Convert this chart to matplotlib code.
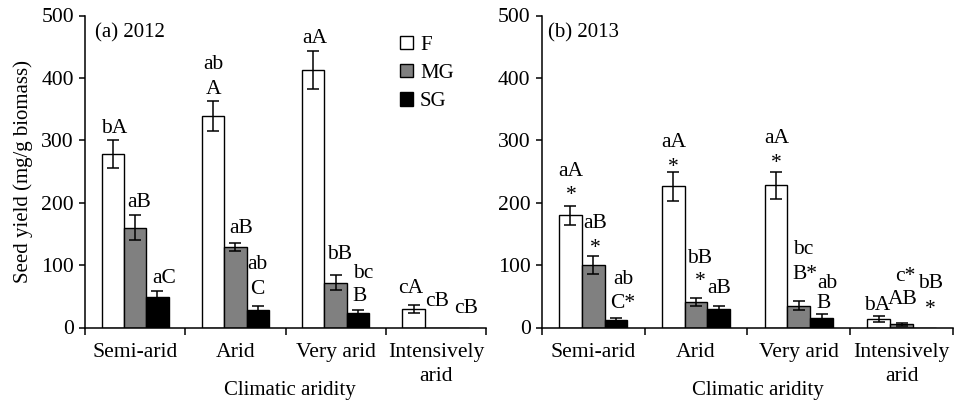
import matplotlib
matplotlib.use("Agg")
import matplotlib.pyplot as plt
from matplotlib.patches import Patch
import numpy as np

categories = ["Semi-arid", "Arid", "Very arid", "Intensively\narid"]
series = ["F", "MG", "SG"]

# 2012
f_2012 = [278, 339, 413, 30]
mg_2012 = [160, 129, 72, 0]
sg_2012 = [49, 28, 23, 0]
f_2012_err = [22, 24, 30, 6]
mg_2012_err = [20, 6, 12, 0]
sg_2012_err = [10, 6, 5, 0]

# 2013
f_2013 = [180, 226, 228, 14]
mg_2013 = [100, 41, 35, 5]
sg_2013 = [12, 29, 15, 0]
f_2013_err = [15, 24, 22, 5]
mg_2013_err = [15, 7, 7, 2.5]
sg_2013_err = [4, 6, 6, 0]

# significance letters: (x, baseline y, text)
labels_2012 = [
    (0.292, 312, "bA"), (0.541, 193, "aB"), (0.791, 71, "aC"),
    (1.279, 415, "ab"), (1.279, 374, "A"), (1.555, 151, "aB"),
    (1.718, 93, "ab"), (1.718, 53, "C"),
    (2.293, 456, "aA"), (2.536, 110, "bB"), (2.775, 80, "bc"), (2.742, 43, "B"),
    (3.247, 55, "cA"), (3.516, 34, "cB"), (3.806, 23, "cB"),
]
labels_2013 = [
    (0.285, 243, "aA"), (0.285, 204, "*"), (0.518, 159, "aB"), (0.518, 120, "*"),
    (0.794, 69, "ab"), (0.788, 31.6, "C*"),
    (1.280, 289, "aA"), (1.280, 249, "*"), (1.540, 103.5, "bB"), (1.540, 66, "*"),
    (1.728, 54.5, "aB"),
    (2.286, 295, "aA"), (2.286, 256, "*"), (2.539, 118, "bc"), (2.561, 78, "B*"),
    (2.782, 63.5, "ab"), (2.740, 31.6, "B"),
    (3.265, 28, "bA"), (3.512, 37, "AB"), (3.535, 74, "c*"), (3.777, 63.5, "bB"),
    (3.784, 22, "*"),
]

plt.rcParams["font.family"] = ["Liberation Serif", "DejaVu Serif"]
FS = 15
FS_TICK = 15.6
FS_ANN = 15.5
colors = ["white", "#808080", "black"]

fig = plt.figure(figsize=(9.55, 4.04), dpi=100)
ax1 = fig.add_axes([85/955, 1-327.5/404, (486-85)/955, 312/404])
ax2 = fig.add_axes([541.7/955, 1-327.5/404, (953-541.7)/955, 312/404])

bw = 0.222
offs = [-bw, 0, bw]
x = np.arange(len(categories)) + 0.5


def draw(ax, vals, errs, labels, title, xlab_x):
    for i, (v, e) in enumerate(zip(vals, errs)):
        ax.bar(x + offs[i], v, width=bw, color=colors[i], edgecolor="black",
               linewidth=1.0, label=series[i], zorder=2)
        ev = np.array(v, dtype=float)
        ee = np.array(e, dtype=float)
        m = ee > 0
        ax.errorbar((x + offs[i])[m], ev[m], yerr=ee[m], fmt="none",
                    ecolor="black", elinewidth=1.1, capsize=4.3, capthick=1.1, zorder=3)
    for lx, ly, t in labels:
        ax.text(lx, ly, t, ha="center", va="baseline", fontsize=FS_ANN)
    ax.set_xlim(0, 4)
    ax.set_ylim(0, 500)
    ax.set_xticks([0, 1, 2, 3, 4])
    ax.set_xticklabels([])
    ax.set_xticks(x, minor=True)
    ax.set_xticklabels(categories, minor=True, fontsize=FS_TICK, linespacing=1.35)
    ax.tick_params(axis="x", which="minor", length=0, pad=11)
    ax.tick_params(axis="x", which="major", length=5, width=1.1, direction="out")
    ax.set_yticks(np.arange(0, 501, 100))
    ax.tick_params(axis="y", length=4, width=1.1, direction="out", labelsize=FS_TICK, pad=4)
    for s in ["top", "right"]:
        ax.spines[s].set_visible(False)
    for s in ["left", "bottom"]:
        ax.spines[s].set_linewidth(1.1)
    ax.text(title[0], title[1], title[2], ha="left", va="center", fontsize=FS)
    ax.set_xlabel("Climatic aridity", fontsize=FS)
    ax.xaxis.set_label_coords(xlab_x, -0.172)


draw(ax1, [f_2012, mg_2012, sg_2012], [f_2012_err, mg_2012_err, sg_2012_err],
     labels_2012, (0.1, 472, "(a) 2012"), 0.511)
draw(ax2, [f_2013, mg_2013, sg_2013], [f_2013_err, mg_2013_err, sg_2013_err],
     labels_2013, (0.064, 472, "(b) 2013"), 0.526)

ax1.set_ylabel("Seed yield (mg/g biomass)", fontsize=FS, labelpad=6)

handles = [Patch(facecolor=c, edgecolor="black", linewidth=1.0) for c in colors]
ax1.legend(handles, series, loc="upper left", bbox_to_anchor=(0.765, 0.962),
           frameon=False, fontsize=FS, handlelength=0.6, handleheight=0.6,
           handletextpad=0.35, labelspacing=0.45, borderaxespad=0)

fig.savefig("out.png", dpi=100)
